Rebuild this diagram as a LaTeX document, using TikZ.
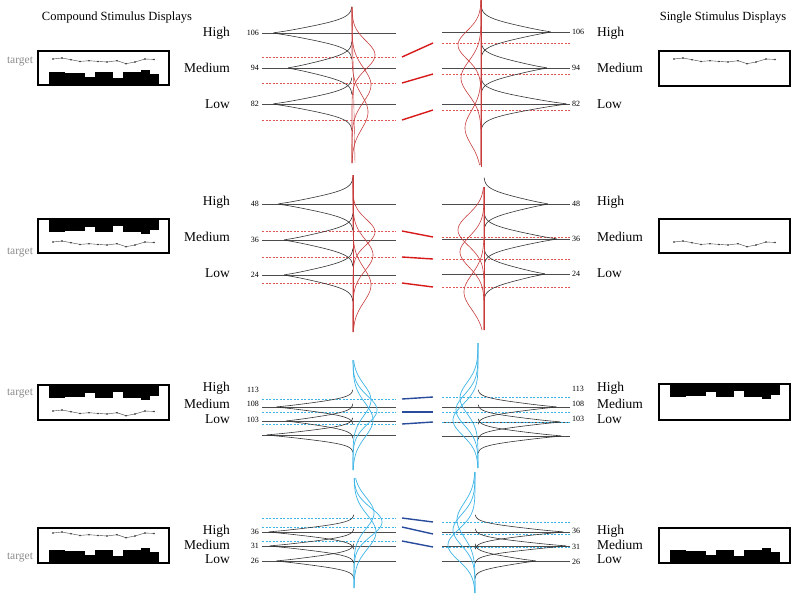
\documentclass[tikz,border=0pt]{standalone}
\usepackage{fontspec}
\setmainfont{Liberation Serif}
\usetikzlibrary{positioning,calc}
\usepackage{xcolor}

\definecolor{distred}{RGB}{200,60,60}
\definecolor{dashred}{RGB}{225,85,85}
\definecolor{slashred}{RGB}{215,25,25}
\definecolor{distblue}{RGB}{60,180,230}
\definecolor{slashblue}{RGB}{40,75,155}

% black response distribution: base x, side, centre y, depth, width
\newcommand{\peak}[5]{%
  \draw[blackcurve] plot[domain=#3-2.3*#5:#3+2.3*#5, samples=120]
    ({#1+(#2)*(#4)*(0.35*exp(-abs(\x-#3)/(0.3*#5))+0.65*exp(-((\x-#3)/#5)^2))}, \x);}
% coloured gaussian: style, top, bottom, base x, side, height, centre, sigma
\newcommand{\bump}[8]{%
  \draw[#1] plot[domain=#2:#3, samples=90]
    ({#4+(#5)*(#6)*exp(-((\x-#7)/#8)^2)}, \x);}
% small trace inside a display box: box left, baseline y
\newcommand{\stimline}[2]{%
  \begin{scope}[shift={(#1,#2)}]
    \draw[stimtrace] plot[mark=*, mark size=0.6pt] coordinates {(15,0) (24,-1) (33,0.7) (42,2.4) (51,1.7) (60,2.4) (69,3) (79,1.7) (88,4.7) (97,3) (107,0) (116,0.4)};
  \end{scope}}
% bar profile inside a display box: box left, edge y, direction (1 up, -1 down)
\newcommand{\stimbars}[3]{%
  \begin{scope}[shift={(#1,#2)}]
    \foreach \xa/\xb/\h in {11/27.4/13,27/47.4/12,47/57.4/8,57/75.4/13,75/85.4/7,85/103.4/13,103/112.4/15,112/121/11}
      \fill (\xa,0) rectangle (\xb,{-(#3)*\h});
  \end{scope}}

\begin{document}
\begin{tikzpicture}[x=1pt, y=-1pt,
    every node/.style={inner sep=0pt},
    lvllbl/.style={font=\fontsize{13.5}{15}\selectfont},
    ticklbl/.style={font=\fontsize{8}{9}\selectfont},
    titlelbl/.style={font=\fontsize{12.5}{14}\selectfont},
    targetlbl/.style={font=\fontsize{11.5}{12}\selectfont, text=black!45},
    stimbox/.style={draw, line width=1.1pt},
    stimtrace/.style={line width=0.4pt, black!75},
    paneline/.style={line width=0.8pt, black!70},
    blackcurve/.style={line width=0.6pt, black!80},
    reddist/.style={line width=0.6pt, distred},
    redbase/.style={line width=0.4pt, distred},
    bluedist/.style={line width=0.7pt, distblue},
    reddash/.style={line width=0.6pt, dashred, dash pattern=on 2pt off 1.5pt},
    bluedash/.style={line width=0.6pt, distblue, dash pattern=on 2pt off 1.5pt},
    redslash/.style={line width=1.4pt, slashred},
    blueslash/.style={line width=1.4pt, slashblue}]
  \useasboundingbox (0,0) rectangle (801,595);

  % Titles
  \node[titlelbl] (compound) at (117,18) {Compound Stimulus Displays};
  \node[titlelbl] (single) at (723,18) {Single Stimulus Displays};

  % Display boxes
  \draw[stimbox] (38,51) rectangle (169,85);   \stimline{38}{59}  \stimbars{38}{85}{1}
  \draw[stimbox] (659,51) rectangle (790,86);  \stimline{659}{59}
  \draw[stimbox] (38,219) rectangle (169,253); \stimline{38}{242} \stimbars{38}{219}{-1}
  \draw[stimbox] (659,219) rectangle (790,253);\stimline{659}{242}
  \draw[stimbox] (38,385) rectangle (169,420); \stimline{38}{411} \stimbars{38}{385}{-1}
  \draw[stimbox] (659,384) rectangle (790,420);\stimbars{659}{384}{-1}
  \draw[stimbox] (38,528) rectangle (169,563); \stimline{38}{533} \stimbars{38}{563}{1}
  \draw[stimbox] (659,528) rectangle (790,563);\stimbars{659}{563}{1}
  \foreach \y [count=\i] in {62,252,393,557}
    \node[targetlbl] (target\i) at (20,\y) {target};

  % Level and tick labels
  \foreach \r/\ya/\yb/\yc in {1/33/68/104, 2/202/237/273, 3/388/404/419, 4/531/545/559} {
    \node[lvllbl, anchor=east] (hiL\r) at (230,\ya) {High};
    \node[lvllbl, anchor=east] (meL\r) at (230,\yb) {Medium};
    \node[lvllbl, anchor=east] (loL\r) at (230,\yc) {Low};
    \node[lvllbl, anchor=west] (hiR\r) at (597,\ya) {High};
    \node[lvllbl, anchor=west] (meR\r) at (597,\yb) {Medium};
    \node[lvllbl, anchor=west] (loR\r) at (597,\yc) {Low};
  }
  \foreach \r/\yl/\yr/\t in {1/33/32/106, 1/68/68/94, 1/104/104/82, 2/204/204/48, 2/240/239/36, 2/275/274/24,
      3/390/389/113, 3/404/404/108, 3/420/419/103, 4/532/531/36, 4/546/547/31, 4/561/562/26} {
    \node[ticklbl, anchor=east] (tkL\r-\t) at (259,\yl) {\t};
    \node[ticklbl, anchor=west] (tkR\r-\t) at (572,\yr) {\t};
  }

  % Panel lines
  \foreach \yl/\yr in {33/32, 68/68, 104/104, 204/204, 240/239, 275/274, 407/407, 421/422, 435/436, 532/532, 546/546, 561/561} {
    \draw[paneline] (262,\yl) -- (396,\yl);
    \draw[paneline] (442,\yr) -- (570,\yr);
  }

  % Criteria and their shifts
  \foreach \yl/\yr [count=\i] in {57/43, 83/74, 120/110, 231/237, 257/259, 283/287} {
    \draw[reddash] (262,\yl) -- (396,\yl);
    \draw[reddash] (442,\yr) -- (570,\yr);
    \coordinate (cL\i) at (402,\yl);
    \coordinate (cR\i) at (433,\yr);
    \draw[redslash] (cL\i) -- (cR\i);
  }
  \foreach \yl/\yr [count=\i from 7] in {399/397, 412/412, 424/422, 518/522, 527/534, 541/547} {
    \draw[bluedash] (262,\yl) -- (396,\yl);
    \draw[bluedash] (442,\yr) -- (570,\yr);
    \coordinate (cL\i) at (402,\yl);
    \coordinate (cR\i) at (433,\yr);
    \draw[blueslash] (cL\i) -- (cR\i);
  }

  % Response distributions
  \foreach \c/\a in {33/80, 68/65, 104/80} \peak{352}{-1}{\c}{\a}{11.5};
  \foreach \c/\a in {32/71, 68/67, 104/87} \peak{481}{1}{\c}{\a}{11.5};
  \foreach \c/\a in {204/76, 240/70, 275/70} \peak{353}{-1}{\c}{\a}{11.5};
  \foreach \c/\a in {204/65, 239/74, 274/62} \peak{484}{1}{\c}{\a}{11.5};
  \foreach \c/\a in {407/78, 421/68, 435/88} \peak{353}{-1}{\c}{\a}{7.5};
  \foreach \c/\a in {407/80, 422/84, 436/85} \peak{478}{1}{\c}{\a}{7.5};
  \foreach \c/\a in {532/87, 546/86, 561/79} \peak{354}{-1}{\c}{\a}{7.5};
  \foreach \c/\a in {532/90, 546/93, 561/62} \peak{475}{1}{\c}{\a}{7.5};

  % Criterion distributions
  \draw[redbase] (352,7) -- (355,163);
  \draw[redbase] (481,0) -- (481,167);
  \draw[redbase] (353,175) -- (353,332);
  \draw[redbase] (484,187) -- (484,330);
  \foreach \a/\c/\s in {23/55/20, 19/85/24, 16/112/24} \bump{reddist}{7}{163}{352}{1}{\a}{\c}{\s};
  \foreach \a/\c/\s in {23/45/20, 20/78/24, 16/128/24} \bump{reddist}{0}{165}{481}{-1}{\a}{\c}{\s};
  \foreach \a/\c/\s in {22/232/18, 20/255/22, 18/285/24} \bump{reddist}{175}{332}{353}{1}{\a}{\c}{\s};
  \foreach \a/\c/\s in {26/230/22, 24/252/22, 20/292/25} \bump{reddist}{187}{330}{484}{-1}{\a}{\c}{\s};
  \foreach \a/\c/\s in {18/400/22, 24/410/20, 20/420/24} \bump{bluedist}{360}{470}{353}{1}{\a}{\c}{\s};
  \foreach \a/\c/\s in {18/398/22, 22/410/22, 25/420/22} \bump{bluedist}{343}{468}{478}{-1}{\a}{\c}{\s};
  \foreach \a/\c/\s in {20/513/22, 28/522/20, 22/532/24} \bump{bluedist}{478}{588}{354}{1}{\a}{\c}{\s};
  \foreach \a/\c/\s in {18/520/24, 22/530/22, 27/545/22} \bump{bluedist}{472}{593}{475}{-1}{\a}{\c}{\s};
\end{tikzpicture}
\end{document}
